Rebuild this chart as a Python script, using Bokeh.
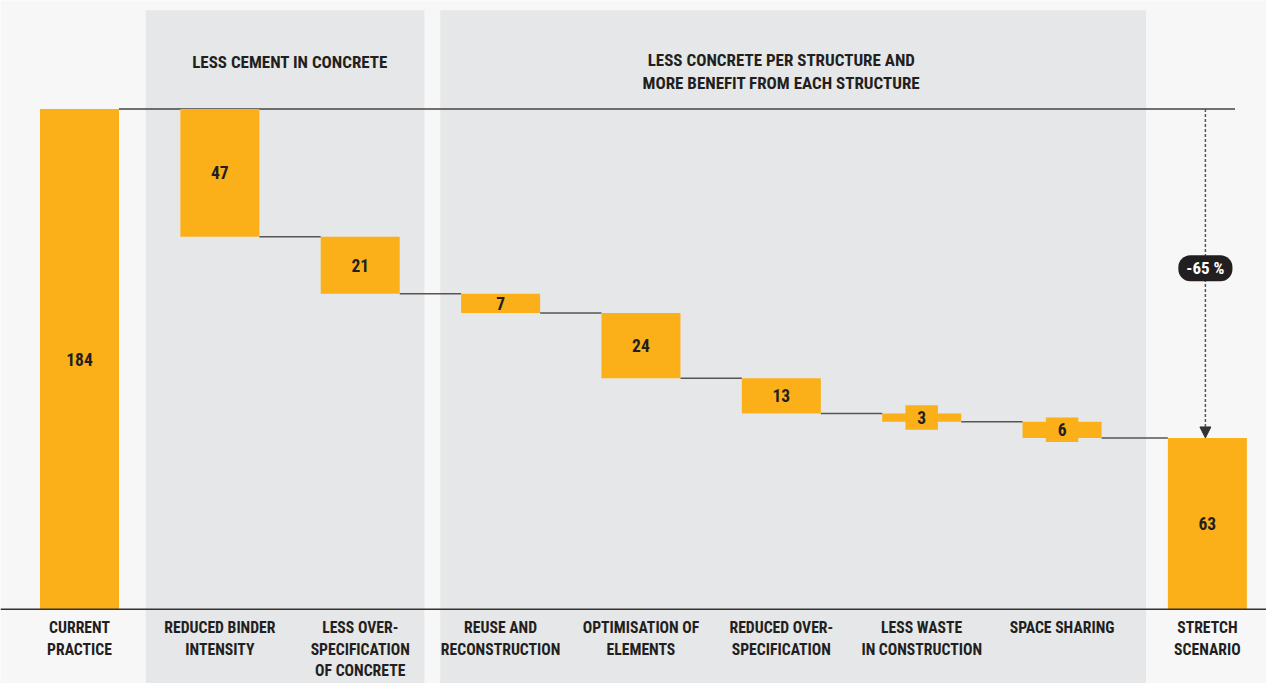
from bokeh.plotting import figure
from bokeh.models import Range1d, Arrow, NormalHead, Label, ColumnDataSource
from bokeh.core.properties import value
from bokeh.embed import file_html
from bokeh.resources import INLINE

# ---- data ----
categories = ["CURRENT\nPRACTICE", "REDUCED BINDER\nINTENSITY", "LESS OVER-\nSPECIFICATION\nOF CONCRETE",
              "REUSE AND\nRECONSTRUCTION", "OPTIMISATION OF\nELEMENTS", "REDUCED OVER-\nSPECIFICATION",
              "LESS WASTE\nIN CONSTRUCTION", "SPACE SHARING", "STRETCH\nSCENARIO"]
start_value = 184
reductions = [47, 21, 7, 24, 13, 3, 6]
end_value = 63
group_titles = ["LESS CEMENT IN CONCRETE", "LESS CONCRETE PER STRUCTURE AND\nMORE BENEFIT FROM EACH STRUCTURE"]
group_members = [(1, 2), (3, 7)]
change_label = "-65 %"

# ---- style ----
ORANGE = "#FBB01A"
PANEL = "#E6E7E8"
BG = "#F7F7F7"
INK = "#231F20"
LINE = "#555555"
FONT_NAME = "Roboto Condensed, DejaVu Sans Condensed, Liberation Sans Narrow, Roboto"
FONT = value(FONT_NAME)

W, H = 1266, 683
REF_W, REF_H = 1282, 699
PX_Y = 512 / 184.0          # reference px per unit
PX_X = 142.14               # reference px per category step
BAR_W = 80 / PX_X
LAST_GAP = 5 / PX_X

n = len(categories)
xs = [float(i) for i in range(n)]
xs[-1] += LAST_GAP

# waterfall geometry
tops, bottoms = [start_value], [0]
level = start_value
for r in reductions:
    tops.append(level)
    level -= r
    bottoms.append(level)
tops.append(end_value)
bottoms.append(0)
vals = [start_value] + reductions + [end_value]

x_lo = -80 / PX_X
x_hi = x_lo + REF_W / PX_X
y_lo = -(REF_H - 623) / PX_Y
y_hi = 623 / PX_Y

p = figure(width=W, height=H, output_backend="svg", toolbar_location=None,
           x_range=Range1d(x_lo, x_hi), y_range=Range1d(y_lo, y_hi),
           min_border=0, outline_line_color=None, background_fill_color=BG,
           border_fill_color=BG)
p.axis.visible = False
p.grid.visible = False

# group panels
pad_l = [0.528, 0.43]
pad_r = [0.457, 0.598]
panel_top = y_hi - 10 / PX_Y
for (a, b), pl, pr in zip(group_members, pad_l, pad_r):
    p.quad(left=xs[a] - pl, right=xs[b] + pr, bottom=y_lo - 10, top=panel_top,
           fill_color=PANEL, line_color=None)

# group titles
for (a, b), t in zip(group_members, group_titles):
    nlines = t.count("\n") + 1
    p.text(x=[(xs[a] + xs[b]) / 2], y=[y_hi], text=[t], text_align="center",
           text_baseline="middle", y_offset=61 + 9.8 * (nlines - 1),
           text_font=FONT, text_font_style="bold", text_font_size="17px",
           text_color=INK, text_line_height=1.15)

# connectors
half = BAR_W / 2
p.segment(x0=[xs[0] + half], y0=[start_value], x1=[xs[-1] + 0.197], y1=[start_value],
          line_color="#444444", line_width=1.5)
cx0, cx1, cy = [], [], []
for i in range(1, n - 1):
    cx0.append(xs[i] + half)
    cx1.append(xs[i + 1] - half)
    cy.append(bottoms[i])
p.segment(x0=cx0, y0=cy, x1=cx1, y1=cy, line_color=LINE, line_width=1.5)

# bars
src = ColumnDataSource(dict(x=xs, top=tops, bottom=bottoms))
p.vbar(x="x", top="top", bottom="bottom", width=BAR_W, source=src,
       fill_color=ORANGE, line_color=None)

# baseline
p.segment(x0=[x_lo], y0=[0], x1=[x_hi], y1=[0], line_color="#333333", line_width=1.5)

# label boxes for thin bars
mids = [(t + b) / 2 for t, b in zip(tops, bottoms)]
small = [i for i, v in enumerate(vals) if v * PX_Y < 18]
p.rect(x=[xs[i] for i in small], y=[mids[i] for i in small], width=32.5, height=24.5,
       width_units="screen", height_units="screen", fill_color=ORANGE, line_color=None)

# value labels
p.text(x=xs, y=mids, text=[str(v) for v in vals], text_align="center", text_baseline="middle",
       text_font=FONT, text_font_style="bold", text_font_size="17.5px", text_color=INK)

# category labels
p.text(x=xs, y=[0] * n, text=categories, text_align="center", text_baseline="top",
       y_offset=9, text_font=FONT, text_font_style="bold", text_font_size="15.7px",
       text_color=INK, text_line_height=1.13)

# change arrow
arrow_x = xs[-1] - 2 / PX_X
p.add_layout(Arrow(end=NormalHead(size=11, fill_color="#333333", line_color="#333333", line_width=1),
                   x_start=arrow_x, y_start=start_value, x_end=arrow_x, y_end=end_value,
                   line_color=LINE, line_width=1.5, line_dash="3 2"))
p.add_layout(Label(x=arrow_x, y=start_value - 163 / PX_Y, text=change_label,
                   text_align="center", text_baseline="middle", text_font=FONT_NAME,
                   text_font_style="bold", text_font_size="17px", text_color="white",
                   background_fill_color=INK, padding=(8, 3), border_radius=12))

html = file_html(p, INLINE)
html = html.replace("<body>", '<body style="background:#F7F7F7">', 1)
open("out.html", "w").write(html)
